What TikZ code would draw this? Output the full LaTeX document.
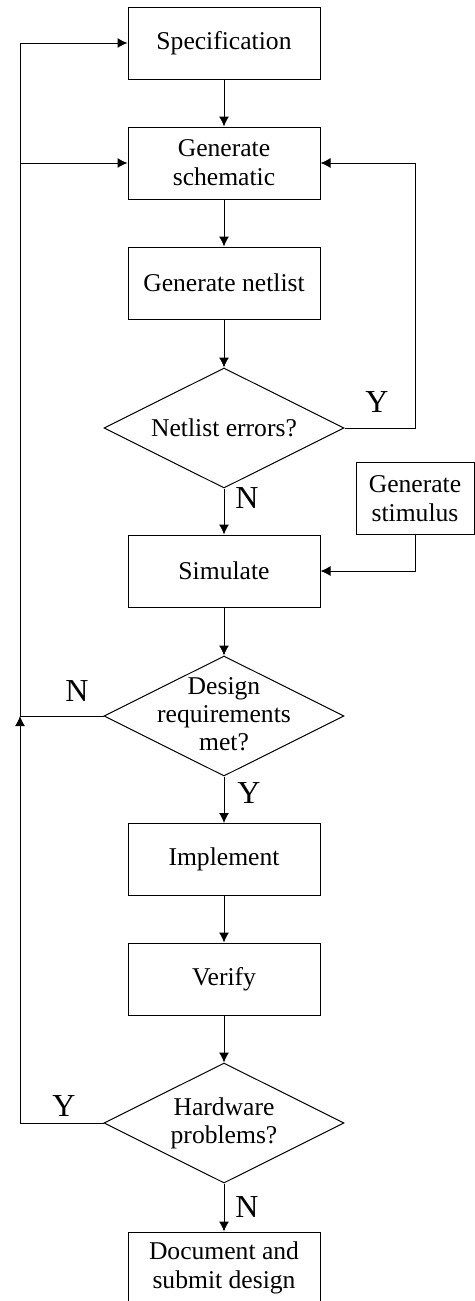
\documentclass[tikz,border=0pt]{standalone}
\usepackage{fontspec}
\setmainfont{Liberation Serif}
\usetikzlibrary{shapes.geometric,arrows.meta}

\tikzset{
  stage/.style={draw,line width=0.5pt,minimum width=96pt,minimum height=36pt,inner sep=0pt,align=center,font=\fontsize{12.8}{14.5}\selectfont},
  decision/.style={draw,diamond,line width=0.5pt,minimum width=120pt,minimum height=60pt,inner sep=0pt},
  dtext/.style={align=center,inner sep=0pt,font=\fontsize{12.8}{14}\selectfont},
  yn/.style={font=\fontsize{16}{18}\selectfont,inner sep=0pt}
}

\begin{document}
\begin{tikzpicture}[x=0.5pt,y=-0.5pt,line width=0.5pt]
\useasboundingbox (0,0) rectangle (475,1301);

% main column
\node[stage] (spec) at (224,43) {Specification};
\node[stage] (schem) at (224,163) {Generate\\schematic};
\node[stage] (netlist) at (224,283) {Generate netlist};
\node[decision] (nerr) at (224,428) {};
\node[dtext] at (nerr) {Netlist errors?};
\node[stage,minimum width=59pt] (stim) at (415,498.5) {Generate\\stimulus};
\node[stage] (sim) at (224,571) {Simulate};
\node[decision] (req) at (224,716) {};
\node[dtext] at (224,714) {Design\\requirements\\met?};
\node[stage] (impl) at (224,859.5) {Implement};
\node[stage] (verify) at (224,979) {Verify};
\node[decision] (hw) at (224,1123) {};
\node[dtext] at (hw) {Hardware\\problems?};
\node[stage] (doc) at (224,1268) {Document and\\submit design};

% corners of the loops
\coordinate (lspec) at (20,43);
\coordinate (lschem) at (20,163);
\coordinate (lreq) at (20,716);
\coordinate (lhw) at (20,1123);
\coordinate (rtop) at (415,163);
\coordinate (rerr) at (415,428);
\coordinate (rsim) at (415,571);

\draw [->,>={Latex[length=5pt,width=5pt]}] (spec)--(schem);
\draw [->,>={Latex[length=5pt,width=5pt]}] (schem)--(netlist);
\draw [->,>={Latex[length=5pt,width=5pt]}] (netlist)--(nerr);
\draw [->,>={Latex[length=5pt,width=5pt]}] (nerr)--(sim);
\draw [->,>={Latex[length=5pt,width=5pt]}] (sim)--(req);
\draw [->,>={Latex[length=5pt,width=5pt]}] (req)--(impl);
\draw [->,>={Latex[length=5pt,width=5pt]}] (impl)--(verify);
\draw [->,>={Latex[length=5pt,width=5pt]}] (verify)--(hw);
\draw [->,>={Latex[length=5pt,width=5pt]}] (hw)--(doc);

\draw [->,>={Latex[length=5pt,width=5pt]}] (nerr.east)--(rerr)--(rtop)--(schem.east);
\draw [->,>={Latex[length=5pt,width=5pt]}] (stim.south)--(rsim)--(sim.east);
\draw [->,>={Latex[length=5pt,width=5pt]}] (req.west)--(lreq)--(lspec)--(spec.west);
\draw [->,>={Latex[length=5pt,width=5pt]}] (lschem)--(schem.west);
\draw [->,>={Latex[length=5pt,width=5pt]}] (hw.west)--(lhw)--(lreq);

% Y/N labels
\node[yn] (y1) at (377,402) {Y};
\node[yn] (n1) at (247,498) {N};
\node[yn] (n2) at (77,691) {N};
\node[yn] (y2) at (249,793) {Y};
\node[yn] (y3) at (64,1106) {Y};
\node[yn] (n3) at (247,1207) {N};
\end{tikzpicture}
\end{document}
